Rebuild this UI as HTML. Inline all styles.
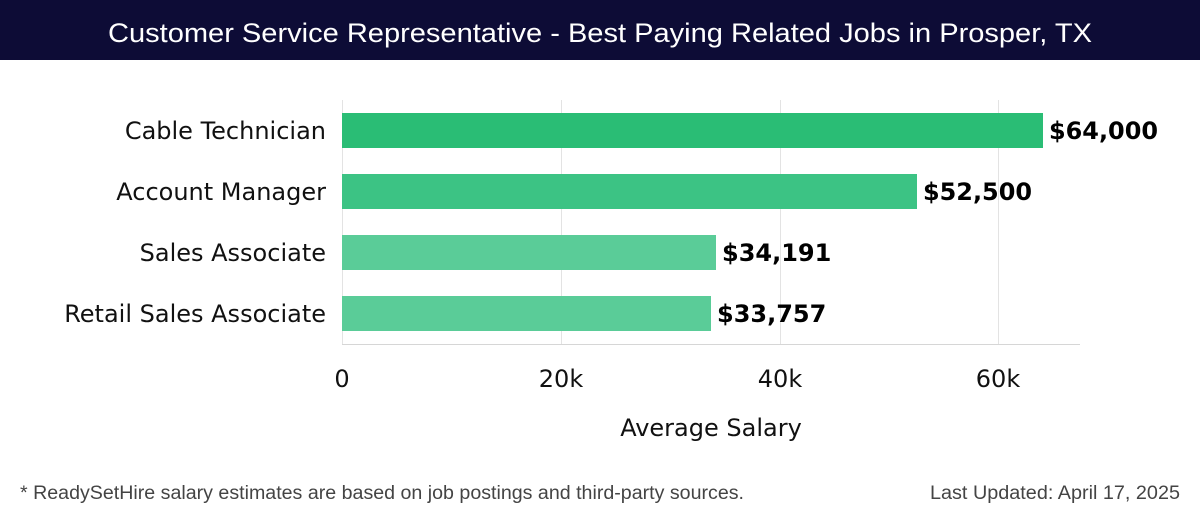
<!DOCTYPE html>
<html><head><meta charset="utf-8"><style>
html,body{margin:0;padding:0;background:#fff;}
svg{display:block;}
</style></head><body>
<svg width="1200" height="520" viewBox="0 0 1200 520" xmlns="http://www.w3.org/2000/svg">
<rect x="0" y="0" width="1200" height="60" fill="#0d0c36"/>
<text x="600" y="42" text-anchor="middle" fill="#fff" font-family="Liberation Sans, DejaVu Sans, sans-serif" font-size="27" textLength="984" lengthAdjust="spacingAndGlyphs">Customer Service Representative - Best Paying Related Jobs in Prosper, TX</text>
<g stroke="#e3e3e3" stroke-width="1">
<line x1="342.5" y1="100" x2="342.5" y2="344"/>
<line x1="561.5" y1="100" x2="561.5" y2="344"/>
<line x1="780.5" y1="100" x2="780.5" y2="344"/>
<line x1="998.5" y1="100" x2="998.5" y2="344"/>
</g>
<line x1="342" y1="344.5" x2="1080" y2="344.5" stroke="#d6d6d6"/>
<rect x="342" y="113" width="701" height="35" fill="#2abd75"/>
<rect x="342" y="174" width="575" height="35" fill="#3cc384"/>
<rect x="342" y="235" width="374" height="35" fill="#5acc98"/>
<rect x="342" y="296" width="369" height="35" fill="#5acc98"/>
<g font-family="DejaVu Sans, sans-serif" font-size="24" fill="#111" text-anchor="end">
<text x="326" y="139">Cable Technician</text>
<text x="326" y="200">Account Manager</text>
<text x="326" y="261">Sales Associate</text>
<text x="326" y="322">Retail Sales Associate</text>
</g>
<g font-family="DejaVu Sans, sans-serif" font-size="24" font-weight="bold" fill="#000">
<text x="1049" y="139" textLength="109" lengthAdjust="spacingAndGlyphs">$64,000</text>
<text x="923" y="200" textLength="109" lengthAdjust="spacingAndGlyphs">$52,500</text>
<text x="722" y="261">$34,191</text>
<text x="717" y="322">$33,757</text>
</g>
<g font-family="DejaVu Sans, sans-serif" font-size="24" fill="#111" text-anchor="middle">
<text x="342" y="387">0</text>
<text x="561" y="387">20k</text>
<text x="780" y="387">40k</text>
<text x="998" y="387">60k</text>
<text x="711" y="436">Average Salary</text>
</g>
<g font-family="Liberation Sans, DejaVu Sans, sans-serif" font-size="19" fill="#444">
<text x="20" y="499" textLength="724" lengthAdjust="spacingAndGlyphs">* ReadySetHire salary estimates are based on job postings and third-party sources.</text>
<text x="1180" y="499" text-anchor="end" textLength="250" lengthAdjust="spacingAndGlyphs">Last Updated: April 17, 2025</text>
</g>
</svg>
</body></html>
